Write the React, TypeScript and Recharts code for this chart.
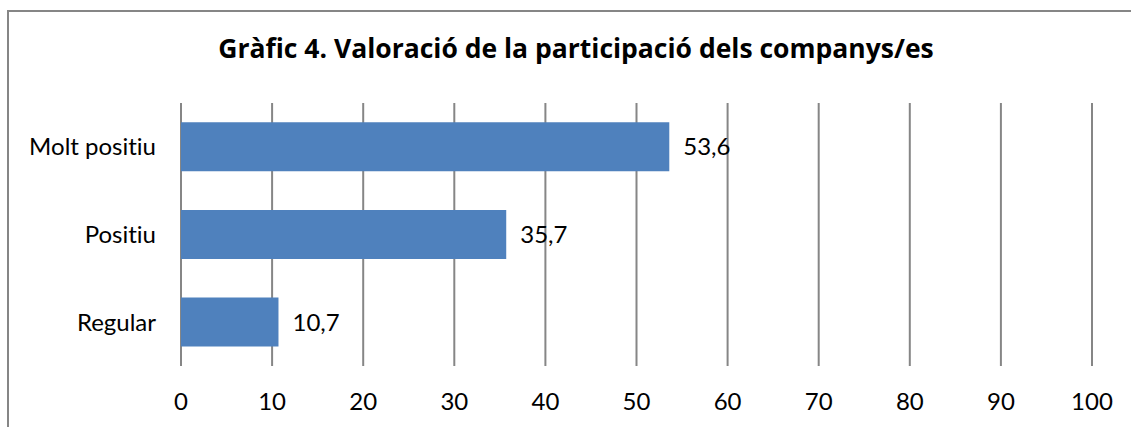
import { BarChart, Bar, XAxis, YAxis, CartesianGrid, LabelList } from "recharts";

const categories = ["Molt positiu", "Positiu", "Regular"];
const values = [53.6, 35.7, 10.7];
const xTicks = [0, 10, 20, 30, 40, 50, 60, 70, 80, 90, 100];

const data = categories.map((name, i) => ({ name, value: values[i] }));

const FONT = "Lato, 'Open Sans', sans-serif";
const TITLE_FONT = "'Open Sans', Lato, sans-serif";

export default function App() {
  return (
    <div style={{ position: "relative", width: 1131, height: 427, overflow: "hidden", background: "#fff", fontFamily: FONT }}>
      <style>{`body{margin:0} svg text{font-variant-ligatures:none}`}</style>
      <div
        style={{
          position: "absolute",
          left: 7,
          top: 10,
          width: 1200,
          height: 500,
          border: "2px solid #868686",
        }}
      />
      <div
        style={{
          position: "absolute",
          left: 8,
          width: 1136,
          top: 30,
          textAlign: "center",
          fontWeight: "bold",
          fontSize: 26.5,
          lineHeight: "36px",
          fontFamily: TITLE_FONT,
          color: "#000",
        }}
      >
        Gràfic 4. Valoració de la participació dels companys/es
      </div>
      <div style={{ position: "absolute", left: 0, top: 0 }}>
        <BarChart
          width={1131}
          height={427}
          data={data}
          layout="vertical"
          margin={{ top: 103, right: 39, bottom: 21, left: 11 }}
          barCategoryGap="22%"
        >
          <CartesianGrid horizontal={false} stroke="#868686" strokeWidth={2} />
          <XAxis
            type="number"
            domain={[0, 100]}
            ticks={xTicks}
            axisLine={false}
            tickLine={false}
            height={40}
            tickMargin={21}
            tick={{ fill: "#000", fontSize: 24, fontFamily: FONT }}
          />
          <YAxis
            type="category"
            dataKey="name"
            width={170}
            axisLine={false}
            tickLine={false}
            tickMargin={19}
            tick={{ fill: "#000", fontSize: 24, fontFamily: FONT }}
          />
          <Bar dataKey="value" fill="#4F81BD" isAnimationActive={false}>
            <LabelList
              dataKey="value"
              position="right"
              offset={14}
              formatter={(v: any) => String(v).replace(".", ",")}
              style={{ fill: "#000", fontSize: 24, fontFamily: FONT }}
            />
          </Bar>
        </BarChart>
      </div>
    </div>
  );
}
